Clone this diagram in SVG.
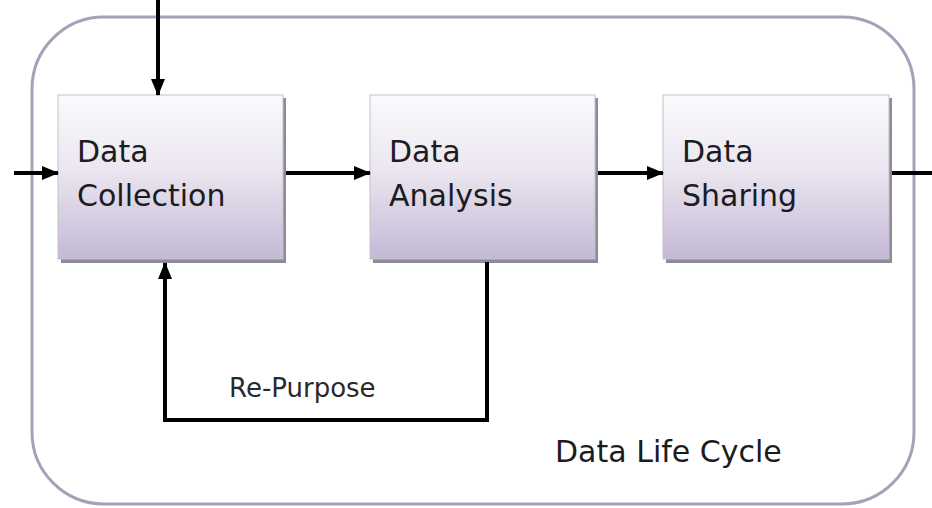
<svg xmlns="http://www.w3.org/2000/svg" width="932" height="508" viewBox="0 0 932 508">
<style>
.box{stroke:#c4c0ca;stroke-width:1;fill:url(#g)}
.shadow{fill:#8f8a97}
.lbl{font-family:"DejaVu Sans","Liberation Sans",sans-serif;font-size:30px;fill:#1b1b22}
.small{font-family:"DejaVu Sans","Liberation Sans",sans-serif;font-size:26px;fill:#2a2a2a}
.conn{stroke:#000;stroke-width:4;fill:none}
</style>
<defs>
<linearGradient id="g" x1="0" y1="0" x2="0" y2="1">
<stop offset="0" stop-color="#fbfafc"/>
<stop offset="0.45" stop-color="#ebe6f0"/>
<stop offset="1" stop-color="#c5b9d6"/>
</linearGradient>
<marker id="arr" markerUnits="userSpaceOnUse" markerWidth="17" markerHeight="16" viewBox="0 0 17 16" refX="16" refY="8" orient="auto">
<path d="M0,1 L17,8 L0,15 Z" fill="#000"/>
</marker>
</defs>
<rect width="932" height="508" fill="#fff"/>
<g id="lifecycle">
<rect x="32" y="17" width="882" height="487" rx="72" ry="72" fill="none" stroke="#a99fb8" stroke-width="3"/>
<text class="lbl" x="555" y="462">Data Life Cycle</text>
</g>
<g id="collection">
<rect class="shadow" x="61" y="98" width="225" height="165"/>
<rect class="box" x="58" y="95" width="225" height="164"/>
<text class="lbl" x="77" y="162">Data</text>
<text class="lbl" x="77" y="206">Collection</text>
</g>
<g id="analysis">
<rect class="shadow" x="373" y="98" width="225" height="165"/>
<rect class="box" x="370" y="95" width="225" height="164"/>
<text class="lbl" x="389" y="162">Data</text>
<text class="lbl" x="389" y="206">Analysis</text>
</g>
<g id="sharing">
<rect class="shadow" x="666" y="98" width="226" height="165"/>
<rect class="box" x="663" y="95" width="226" height="164"/>
<text class="lbl" x="682" y="162">Data</text>
<text class="lbl" x="682" y="206">Sharing</text>
</g>
<g id="connectors">
<path class="conn" d="M158,0 V95" marker-end="url(#arr)"/>
<path class="conn" d="M14,173 H58" marker-end="url(#arr)"/>
<path class="conn" d="M286,173 H370" marker-end="url(#arr)"/>
<path class="conn" d="M598,173 H663" marker-end="url(#arr)"/>
<path class="conn" d="M892,173 H932"/>
<path class="conn" d="M487,262 V420 H165 V263" marker-end="url(#arr)"/>
<text class="small" x="229" y="397">Re-Purpose</text>
</g>
</svg>
